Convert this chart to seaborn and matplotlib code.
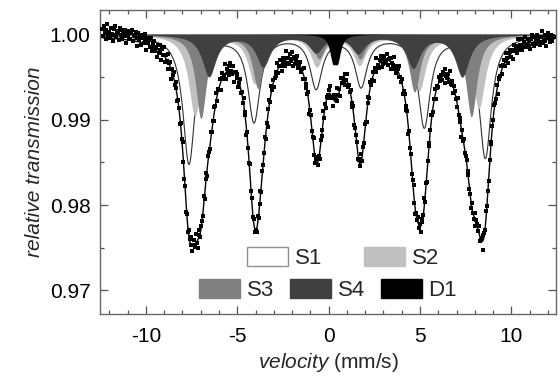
import numpy as np
import seaborn as sns
import matplotlib.pyplot as plt
from matplotlib.patches import Patch

sns.set_style("ticks")
plt.rcParams["font.family"] = ["Liberation Sans", "DejaVu Sans"]
plt.rcParams["mathtext.fontset"] = "custom"
plt.rcParams["mathtext.rm"] = "Liberation Sans"
plt.rcParams["mathtext.it"] = "Liberation Sans:italic"
plt.rcParams["axes.unicode_minus"] = False

# ----------------------------
# Fitted subspectra: line positions (mm/s), line depths, half width (mm/s)
# ----------------------------
s1_pos = [-7.67, -4.11, -0.71, 1.75, 5.21, 8.55]
s1_depth = [0.0150, 0.0100, 0.0060, 0.0058, 0.0106, 0.0143]
s1_hw = 0.40

s2_pos = [-7.29, -4.03, -0.62, 1.72, 4.99, 8.25]
s2_depth = [0.0095, 0.0056, 0.0036, 0.0034, 0.0064, 0.0086]
s2_hw = 0.42

s3_pos = [-6.96, -3.84, -0.50, 1.75, 4.73, 7.84]
s3_depth = [0.0098, 0.0062, 0.0027, 0.0027, 0.0066, 0.0096]
s3_hw = 0.36

s4_pos = [-6.52, -3.56, -0.66, 1.64, 4.66, 7.34]
s4_depth = [0.0049, 0.0037, 0.0020, 0.0021, 0.0038, 0.0049]
s4_hw = 0.46

d1_pos = [0.25, 0.52]
d1_depth = [0.0026, 0.0026]
d1_hw = 0.20

names = ["S1", "S2", "S3", "S4", "D1"]
fill_colors = ["#ffffff", "#c0c0c0", "#808080", "#404040", "#000000"]

# measured points: 512 channels, scatter about the fit in units of 1.8e-4
v_start, v_stop, n_chan = -12.4, 12.35, 512
scatter_unit = 1.8e-4
scatter = """
6 1 8 3 -1 5 9 2 4 0 7 3 -2 6 2 8 1 4 5 -1 7 3 0 6 4 2 6 -2 5 3 1 6
1 5 7 0 4 3 6 -3 2 6 1 4 -2 5 3 0 6 2 -4 4 1 3 -1 5 -3 2 0 4 -2 1 -5 3
-2 4 1 -5 3 0 6 -3 2 -1 5 -4 1 3 -6 2 0 4 -2 -1 6 -3 2 1 -4 3 -1 5 0 -2 3 -5
2 -3 4 1 -1 5 -4 0 3 -2 6 -1 -5 2 4 -3 1 0 -2 5 -4 3 1 -6 2 0 -3 4 -1 2 -2 3
0 5 -3 2 -1 4 -5 1 3 -2 0 6 -4 2 -1 3 -3 5 0 -2 4 -6 1 2 -1 3 -4 0 5 -2 1 -3
4 -1 2 -5 3 0 -2 6 -3 1 -4 2 5 -1 0 -3 4 -2 1 3 -5 2 -1 0 4 -3 2 -6 1 3 -2 5
-1 3 -4 0 2 -2 5 -3 1 4 -1 -5 3 0 2 -4 6 -2 1 -3 3 0 -1 5 -4 2 -2 1 4 -3 0 2
3 -2 1 -4 5 0 -3 2 -1 4 -6 1 3 -2 0 5 -1 -3 2 4 -2 1 -5 3 0 -1 6 -3 2 -4 1 0
-3 2 5 -1 0 -4 3 1 -2 6 -3 0 2 -5 4 -1 1 -2 3 -4 0 5 -2 1 -1 3 -5 2 4 -3 0 1
2 -4 0 3 -1 5 -3 1 -2 4 0 -6 2 1 -3 4 -1 0 3 -5 2 -2 6 -1 0 -3 2 4 -4 1 -2 3
0 -2 4 -3 1 2 -5 3 0 -1 5 -2 -4 2 1 -3 6 0 -1 3 -4 1 2 -2 0 4 -5 3 -1 2 -3 1
5 -1 -3 2 0 4 -2 1 -4 3 -1 0 6 -3 2 -5 1 3 -2 0 4 -1 -3 2 5 -4 1 0 -2 3 -1 2
-2 3 1 -5 4 0 -1 2 -3 5 -2 1 0 -4 3 2 -1 -3 6 -2 0 1 -5 3 -1 4 -2 0 2 -3 5 -1
1 -3 4 0 -2 3 -4 2 1 -1 5 -3 0 2 -6 3 1 -2 4 -1 0 -3 2 5 -4 1 -1 3 0 -2 4 -5
2 0 -1 4 -3 1 3 -2 5 -1 0 -4 2 3 -2 1 -5 4 0 -1 2 -3 6 -2 1 0 -3 4 -1 2 5 -2
0 3 -2 1 -4 2 5 -1 -3 3 0 -2 4 1 -1 -3 2 6 -2 0 3 -1 -4 2 4 1 -2 3 0 -1 2 1
"""
scatter = np.array(scatter.split(), dtype=float)


def absorption(v, pos, depth, hw):
    out = np.zeros_like(v)
    for p, d in zip(pos, depth):
        out += d / (1 + ((v - p) / hw) ** 2)
    return out


params = [(s1_pos, s1_depth, s1_hw), (s2_pos, s2_depth, s2_hw),
          (s3_pos, s3_depth, s3_hw), (s4_pos, s4_depth, s4_hw),
          (d1_pos, d1_depth, d1_hw)]

v_fit = np.linspace(v_start, v_stop, 2000)
v_data = np.linspace(v_start, v_stop, n_chan)
comps = [absorption(v_fit, *p) for p in params]
fit = 1 - np.sum(comps, axis=0)
data = 1 - np.sum([absorption(v_data, *p) for p in params], axis=0) + scatter * scatter_unit

# ----------------------------
# Plot
# ----------------------------
fig = plt.figure(figsize=(5.6, 3.83), dpi=100)
ax = fig.add_axes([0.179, 0.180, 0.814, 0.794])

for i, (name, c) in enumerate(zip(names, fill_colors)):
    ax.fill_between(v_fit, 1, 1 - comps[i], facecolor=c,
                    edgecolor="#303030" if name == "S1" else "none",
                    linewidth=0.8, zorder=1 + i)

sns.lineplot(x=v_fit, y=fit, color="black", linewidth=1.0, ax=ax, zorder=7)
sns.scatterplot(x=v_data, y=data, marker="s", s=9, color="black",
                linewidth=0, ax=ax, zorder=8)

ax.set_xlim(-12.5, 12.45)
ax.set_ylim(0.9672, 1.0029)
ax.set_xticks([-10, -5, 0, 5, 10])
ax.set_xticks(np.arange(-12, 13, 1), minor=True)
ax.set_yticks([0.97, 0.98, 0.99, 1.00])
ax.set_yticks([0.975, 0.985, 0.995], minor=True)
ax.yaxis.set_major_formatter(plt.FormatStrFormatter("%.2f"))
ax.tick_params(which="both", direction="in", top=True, right=True,
               color="#555555", labelsize=15, labelcolor="black")
ax.tick_params(which="major", length=6, width=0.9)
ax.tick_params(which="minor", length=3, width=0.9)
ax.tick_params(axis="x", pad=9)
ax.tick_params(axis="y", pad=7)
for sp in ax.spines.values():
    sp.set_color("#666666")
    sp.set_linewidth(1.0)

ax.set_ylabel("relative transmission", fontsize=15, fontstyle="italic", labelpad=4)
ax.set_xlabel(r"$\mathit{velocity}$ (mm/s)", fontsize=15, labelpad=4)

handles = [Patch(facecolor=c, edgecolor="#909090" if n == "S1" else c,
                 linewidth=1.0, label=n) for n, c in zip(names, fill_colors)]
leg_opts = dict(loc="center", frameon=False, fontsize=16, handlelength=1.85,
                handleheight=0.95, handletextpad=0.3, borderpad=0, borderaxespad=0)
leg1 = ax.legend(handles=handles[:2], ncol=2, columnspacing=1.9,
                 bbox_to_anchor=(0.533, 0.184), **leg_opts)
ax.add_artist(leg1)
ax.legend(handles=handles[2:], ncol=3, columnspacing=0.7,
          bbox_to_anchor=(0.500, 0.079), **leg_opts)

plt.savefig("out.png", dpi=100)
plt.close()
